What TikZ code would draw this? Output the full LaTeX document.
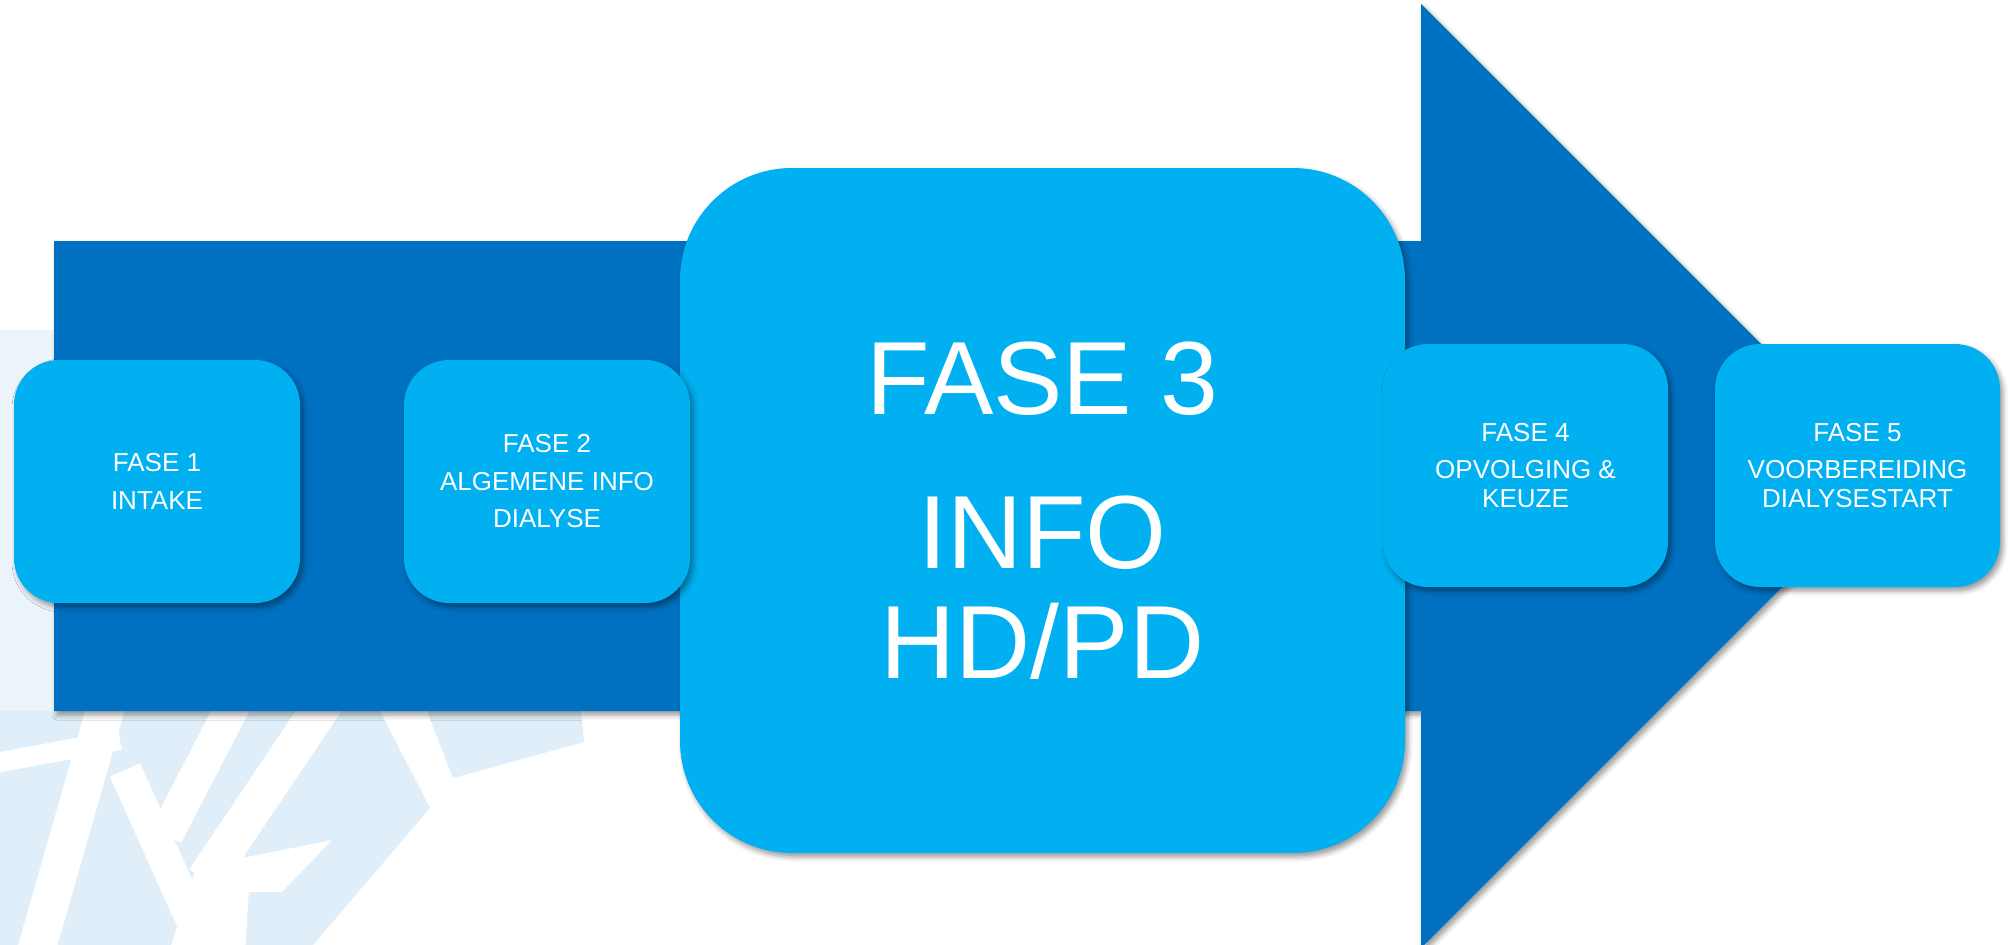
\documentclass[tikz,border=0pt]{standalone}
\usepackage{fontspec}
\setmainfont{Liberation Sans}
\usetikzlibrary{shadows.blur}

\definecolor{arrowblue}{HTML}{0070C0}
\definecolor{boxblue}{HTML}{00B0F0}
\definecolor{patternblue}{HTML}{DFEEF8}
\definecolor{patternpale}{HTML}{EBF4FA}

\tikzset{
  softshadow/.style={blur shadow={shadow xshift=3pt, shadow yshift=-4pt,
      shadow blur radius=5pt, shadow opacity=40}},
  phase/.style={rectangle, rounded corners=45pt, fill=boxblue, text=white,
      inner sep=0pt, align=center, softshadow},
  smallphase/.style={phase, minimum width=286pt, minimum height=243pt},
  bigphase/.style={phase, rounded corners=112pt, minimum width=725pt,
      minimum height=685pt},
  stripe/.style={draw=white, line cap=butt},
}

\begin{document}
\begin{tikzpicture}[x=1pt, y=-1pt]
  \useasboundingbox (0,0) rectangle (2008,945);
  \clip (0,0) rectangle (2008,945);

  % faint logo pattern in the lower left corner
  \fill[patternpale] (0,330) rectangle (60,711);
  \fill[patternblue] (0,711) -- (380,711) -- (430,808) -- (313,945) -- (0,945) -- cycle;
  \fill[patternblue] (427,711) -- (581,711) -- (584,742) -- (453,778) -- cycle;
  \draw[stripe, line width=20pt] (-5,763) -- (120,740);
  \draw[stripe, line width=38pt] (108,700) -- (35,955);
  \draw[stripe, line width=33pt] (125,770) -- (208,955);
  \draw[stripe, line width=34pt] (236,700) -- (166,835);
  \draw[stripe, line width=38pt] (326,700) -- (205,880);
  \fill[white] (168,955) -- (245,955) -- (250,872) -- (196,868) -- cycle;
  \fill[white] (232,860) -- (332,840) -- (282,892) -- (236,892) -- cycle;

  % the big process arrow
  \fill[arrowblue, softshadow]
    (54,241) -- (1421,241) -- (1421,4) -- (1893,476) -- (1421,948)
    -- (1421,711) -- (54,711) -- cycle;

  % central phase
  \node[bigphase, font={\fontsize{104}{110}\selectfont}] (f3) at (1042.5,510.5)
    {FASE 3\\[44pt]INFO\\HD/PD};

  % outer phases
  \node[smallphase, font={\fontsize{26}{38}\selectfont}] (f1) at (157,481.5)
    {FASE 1\\INTAKE};
  \node[smallphase, font={\fontsize{26}{37.5}\selectfont}] (f2) at (547,481.5)
    {FASE 2\\ALGEMENE INFO\\DIALYSE};
  \node[smallphase, minimum width=285pt, font={\fontsize{26}{29}\selectfont}]
    (f4) at (1525.5,465.5) {FASE 4\\[8pt]OPVOLGING \&\\KEUZE};
  \node[smallphase, minimum width=285pt, font={\fontsize{26}{29}\selectfont}]
    (f5) at (1857.5,465.5) {FASE 5\\[8pt]VOORBEREIDING\\DIALYSESTART};
\end{tikzpicture}
\end{document}
